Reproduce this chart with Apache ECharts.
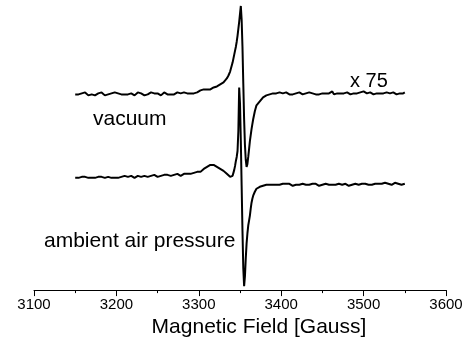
<!DOCTYPE html>
<html>
<head>
<meta charset="utf-8">
<script src="https://cdn.jsdelivr.net/npm/echarts@6/dist/echarts.min.js"></script>
<style>
html,body{margin:0;padding:0;background:#fff;}
#chart{width:469px;height:343px;}
</style>
</head>
<body>
<div id="chart"></div>
<script>
// Magnetic field (Gauss)
const field = [
3150,3152,3154,3156,3158,3160,3162,3164,3166,3168,
3170,3172,3174,3176,3178,3180,3182,3184,3186,3188,
3190,3192,3194,3196,3198,3200,3202,3204,3206,3208,
3210,3212,3214,3216,3218,3220,3222,3224,3226,3228,
3230,3232,3234,3236,3238,3240,3242,3244,3246,3248,
3250,3252,3254,3256,3258,3260,3262,3264,3266,3268,
3270,3272,3274,3276,3278,3280,3282,3284,3286,3288,
3290,3292,3294,3296,3298,3300,3302,3304,3306,3308,
3310,3312,3314,3316,3318,3320,3322,3324,3326,3328,
3330,3332,3334,3336,3338,
3339,3340,3341,3342,3343,3344,3345,3346,3347,3348,
3349,3350,3351,3352,3353,3354,3355,3356,3357,3358,
3359,3360,3361,3362,3363,3364,3365,3366,3367,3368,
3369,3370,
3372,3374,3376,3378,3380,3382,3384,3386,3388,3390,
3392,3394,3396,3398,3400,3402,3404,3406,3408,3410,
3412,3414,3416,3418,3420,3422,3424,3426,3428,3430,
3432,3434,3436,3438,3440,3442,3444,3446,3448,3450,
3452,3454,3456,3458,3460,3462,3464,3466,3468,3470,
3472,3474,3476,3478,3480,3482,3484,3486,3488,3490,
3492,3494,3496,3498,3500,3502,3504,3506,3508,3510,
3512,3514,3516,3518,3520,3522,3524,3526,3528,3530,
3532,3534,3536,3538,3540,3542,3544,3546,3548,3550
];

// Vacuum spectrum (x 75), arbitrary units incl. vertical offset
const vacuum = [
197,198,197,196,198,197,199,197,196,198,
197,198,196,197,198,197,199,197,196,198,
197,196,198,197,199,197,198,196,197,198,
197,199,197,196,198,197,196,198,199,197,
198,197,196,198,197,196,199,197,198,197,
198,197,196,198,199,197,197,199,197,198,
197,198,199,197,198,198,199,197,198,199,
198,199,198,200,199,200,201,200,202,201,
202,203,202,204,204,205,205,206,207,208,
209,211,213,216,220,
223,226,229,233,237,241,245,250,256,263,
270,278,286,272,245,208,172,146,131,124,
127,134,142,150,156,162,167,172,176,180,
183,186,
188,190,192,194,195,196,196,197,197,198,
197,198,197,199,197,198,197,199,198,197,
198,197,199,198,197,199,198,197,198,198,
197,199,197,198,199,197,198,197,199,198,
199,198,197,198,197,200,197,199,198,197,
198,199,198,197,199,198,197,199,198,197,
198,197,199,198,200,198,198,197,199,198,
197,199,198,197,198,200,198,198,199,198,
198,197,199,198,197,199,198,197,198,199
];

// Ambient air pressure spectrum, arbitrary units incl. vertical offset
const ambient = [
113,114,113,112,114,113,114,112,113,114,
113,114,113,112,114,113,114,112,113,114,
114,113,113,115,113,114,113,115,114,113,
115,114,114,113,115,115,113,114,115,114,
114,115,115,114,114,116,115,114,116,115,
114,116,115,114,116,115,116,115,115,117,
116,115,117,116,115,116,117,115,117,116,
117,116,118,117,119,120,119,121,122,123,
124,125,126,127,126,126,124,123,122,121,
120,118,117,115,114,
113,113,115,118,121,125,130,134,140,160,
204,188,150,105,60,22,4,14,32,47,
57,65,70,75,82,88,92,95,97,99,
101,102,
103,104,105,105,106,106,107,106,107,106,
107,106,107,106,105,107,106,107,106,107,
106,105,107,106,107,106,106,107,107,106,
107,106,105,107,106,107,106,105,107,106,
107,107,106,106,107,106,107,106,106,107,
106,106,107,107,106,105,107,106,107,107,
106,106,107,107,106,107,109,106,107,106,
107,107,106,107,106,107,107,108,106,107,
108,106,107,108,106,107,107,106,107,107
];

const labels = ['vacuum', 'ambient air pressure', 'x 75'];
const axisTitle = 'Magnetic Field [Gauss]';

const chart = echarts.init(document.getElementById('chart'), null, {renderer: 'canvas'});
const FONT = '"Liberation Sans", Arial, Helvetica, sans-serif';
const lineStyle = {color: '#000', width: 2};

chart.setOption({
  animation: false,
  backgroundColor: '#fff',
  grid: {left: 34, right: 23, top: 0, bottom: 51},
  xAxis: {
    type: 'value', min: 3100, max: 3600, interval: 100,
    axisLine: {show: true, onZero: false, lineStyle: {color: '#000', width: 1}},
    axisTick: {show: true, inside: false, length: 6, lineStyle: {color: '#000'}},
    minorTick: {show: true, splitNumber: 2, length: 3, lineStyle: {color: '#000'}},
    splitLine: {show: false},
    axisLabel: {color: '#000', fontSize: 15, fontFamily: FONT, margin: 7,
      formatter: v => String(v)},
    name: axisTitle, nameLocation: 'middle', nameGap: 20,
    nameTextStyle: {color: '#000', fontSize: 21, fontFamily: FONT, padding: [0, 0, 0, 38]}
  },
  yAxis: {type: 'value', min: 0, max: 292, show: false},
  series: [
    {type: 'line', showSymbol: false, symbol: 'none', lineStyle: lineStyle,
     data: field.map((f, i) => [f, vacuum[i]])},
    {type: 'line', showSymbol: false, symbol: 'none', lineStyle: lineStyle,
     data: field.map((f, i) => [f, ambient[i]])}
  ],
  graphic: [
    {type: 'text', left: 93, top: 109, style: {text: labels[0], font: '21px ' + FONT, fill: '#000'}},
    {type: 'text', left: 44, top: 231, style: {text: labels[1], font: '21px ' + FONT, fill: '#000'}},
    {type: 'text', left: 350, top: 71, style: {text: labels[2], font: '20px ' + FONT, fill: '#000'}}
  ]
});
</script>
</body>
</html>
